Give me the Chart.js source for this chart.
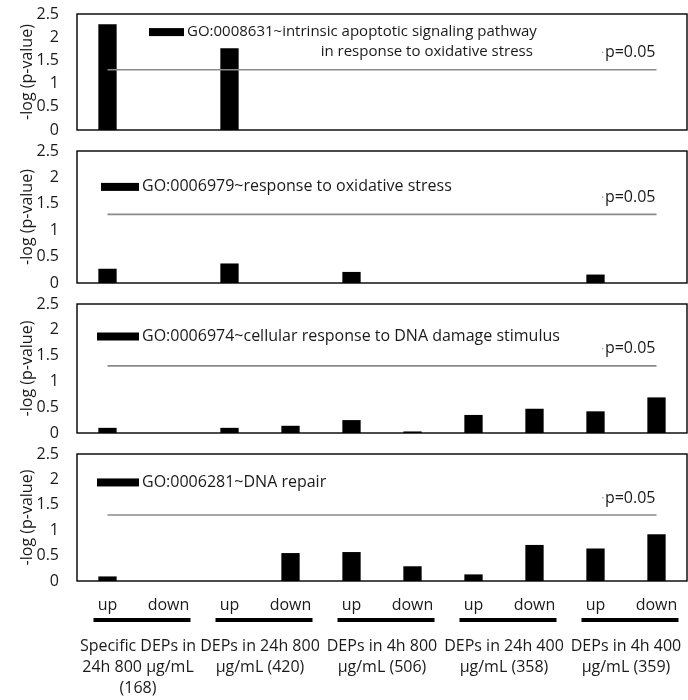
<!DOCTYPE html>
<html>
<head>
<meta charset="utf-8">
<script src="https://cdn.jsdelivr.net/npm/chart.js@4/dist/chart.umd.min.js"></script>
<style>
  body { margin: 0; background: #fff; width: 688px; height: 700px; position: relative; overflow: hidden; }
  canvas { position: absolute; left: 0; display: block; }
</style>
</head>
<body>
<canvas id="c1" width="688" height="136" style="top:4px"></canvas>
<canvas id="c2" width="688" height="152" style="top:141px"></canvas>
<canvas id="c3" width="688" height="149" style="top:294px"></canvas>
<canvas id="c4" width="688" height="256" style="top:444px"></canvas>
<script>
const categories = ["up", "down", "up", "down", "up", "down", "up", "down", "up", "down"];
const groupLabels = [
  ["Specific DEPs in", "24h 800 μg/mL", "(168)"],
  ["DEPs in 24h 800", "μg/mL (420)"],
  ["DEPs in 4h 800", "μg/mL (506)"],
  ["DEPs in 24h 400", "μg/mL (358)"],
  ["DEPs in 4h 400", "μg/mL (359)"],
];
const yTitle = "-log (p-value)";
const threshold = 1.3; // -log10(0.05)
const thresholdLabel = "p=0.05";

const apoptoticTerm = ["GO:0008631~intrinsic apoptotic signaling pathway", "in response to oxidative stress"];
const apoptoticValues = [2.28, 0, 1.76, 0, 0, 0, 0, 0, 0, 0];

const oxidativeTerm = ["GO:0006979~response to oxidative stress"];
const oxidativeValues = [0.27, 0, 0.37, 0, 0.21, 0, 0, 0, 0.16, 0];

const dnaDamageTerm = ["GO:0006974~cellular response to DNA damage stimulus"];
const dnaDamageValues = [0.1, 0, 0.1, 0.14, 0.25, 0.03, 0.35, 0.47, 0.42, 0.69];

const dnaRepairTerm = ["GO:0006281~DNA repair"];
const dnaRepairValues = [0.09, 0, 0, 0.55, 0.57, 0.29, 0.13, 0.71, 0.64, 0.92];

const FONT_FAMILY = "'Open Sans', Lato, sans-serif";
const FONT_SIZE = 16;
const TEXT_COLOR = "#1a1a1a";

// frame, in-plot legend and the p=0.05 label
const panelDecor = {
  id: "panelDecor",
  afterDatasetsDraw(chart, args, opts) {
    const { ctx, chartArea: a, scales: { x, y } } = chart;
    ctx.save();
    ctx.strokeStyle = "#000";
    ctx.lineWidth = 1.4;
    ctx.strokeRect(a.left, a.top, a.right - a.left, a.bottom - a.top);

    const lines = chart.data.datasets[1].label.split("|");
    const ly = y.getPixelForValue(opts.legendY);
    ctx.fillStyle = "#000";
    ctx.fillRect(opts.legendX, ly - 4, opts.boxW, 8);
    ctx.font = (opts.fontSize || FONT_SIZE) + "px " + FONT_FAMILY;
    ctx.fillStyle = TEXT_COLOR;
    ctx.textBaseline = "middle";
    ctx.textAlign = "left";
    const tx = opts.legendX + opts.boxW + 3;
    ctx.fillText(lines[0], tx, ly);
    if (lines[1]) {
      ctx.textAlign = "right";
      ctx.fillText(lines[1], tx + ctx.measureText(lines[0]).width - 4, ly + 20);
    }

    ctx.font = FONT_SIZE + "px " + FONT_FAMILY;
    const px = x.getPixelForValue(categories.length - 1) - 1;
    const py = y.getPixelForValue(threshold) - 17;
    ctx.textAlign = "right";
    ctx.fillText(thresholdLabel, px, py);
    const w = ctx.measureText(thresholdLabel).width;
    ctx.fillStyle = "#aaa";
    ctx.fillRect(px - w - 3, py - 1, 1.5, 1.5);
    ctx.restore();
  },
};

// thick underline below each up/down pair
const groupLines = {
  id: "groupLines",
  afterDraw(chart) {
    const { ctx, scales: { x } } = chart;
    ctx.save();
    ctx.strokeStyle = "#000";
    ctx.lineWidth = 4;
    for (let g = 0; g < groupLabels.length; g++) {
      const x1 = x.getPixelForValue(g * 2) - 14;
      const x2 = Math.min(x.getPixelForValue(g * 2 + 1) + 22, 686);
      ctx.beginPath();
      ctx.moveTo(x1, x.top + 39);
      ctx.lineTo(x2, x.top + 39);
      ctx.stroke();
    }
    ctx.restore();
  },
};

// keep label overflow from squeezing the plot area
function noSidePadding(scale) {
  scale.paddingLeft = 0;
  scale.paddingRight = 0;
}

function makePanel(canvasId, term, values, legend, isLast) {
  const font = { family: FONT_FAMILY, size: FONT_SIZE };
  const scales = {
    y: {
      min: 0,
      max: 2.5,
      ticks: { stepSize: 0.5, autoSkip: false, padding: 18, color: TEXT_COLOR, font, callback: (v) => String(v) },
      grid: { display: false, drawTicks: false },
      border: { display: false },
      title: {
        display: true,
        text: yTitle,
        color: TEXT_COLOR,
        font,
        padding: { top: 18, bottom: 0 },
      },
      afterFit(scale) {
        scale.width = 77;
        // tick padding is only meant sideways, not to shrink the plot vertically
        scale.paddingTop = 10;
        scale.paddingBottom = 10;
      },
    },
    x: {
      display: !!isLast,
      weight: 0,
      ticks: { padding: 15, color: TEXT_COLOR, autoSkip: false, maxRotation: 0, font },
      grid: { display: false, drawTicks: false },
      border: { display: false },
      afterFit(scale) {
        noSidePadding(scale);
        if (isLast) scale.height = 48;
      },
    },
  };
  if (isLast) {
    scales.x2 = {
      type: "category",
      position: "bottom",
      weight: 1,
      offset: true,
      labels: groupLabels,
      ticks: { padding: 7, color: TEXT_COLOR, autoSkip: false, maxRotation: 0, font: { family: FONT_FAMILY, size: FONT_SIZE, lineHeight: 1.3 } },
      grid: { display: false, drawTicks: false },
      border: { display: false },
      afterFit(scale) {
        noSidePadding(scale);
        scale.height = 71;
      },
    };
  }

  return new Chart(document.getElementById(canvasId), {
    type: "bar",
    data: {
      labels: categories,
      datasets: [
        {
          type: "line",
          label: thresholdLabel,
          data: categories.map(() => threshold),
          borderColor: "#8a8a8a",
          borderWidth: 1.6,
          pointRadius: 0,
          order: 0,
        },
        {
          label: term.join("|"),
          data: values,
          backgroundColor: "#000",
          barPercentage: 0.3,
          categoryPercentage: 1,
          order: 1,
        },
      ],
    },
    options: {
      responsive: false,
      animation: false,
      devicePixelRatio: 1,
      layout: { padding: { top: 10, bottom: isLast ? 0 : 10, left: 0, right: 1 } },
      plugins: {
        legend: { display: false },
        tooltip: { enabled: false },
        panelDecor: legend,
      },
      scales,
    },
    plugins: isLast ? [panelDecor, groupLines] : [panelDecor],
  });
}

makePanel("c1", apoptoticTerm, apoptoticValues, { legendX: 149, legendY: 2.11, boxW: 35, fontSize: 15 });
makePanel("c2", oxidativeTerm, oxidativeValues, { legendX: 101, legendY: 1.82, boxW: 38 });
makePanel("c3", dnaDamageTerm, dnaDamageValues, { legendX: 97, legendY: 1.87, boxW: 42 });
makePanel("c4", dnaRepairTerm, dnaRepairValues, { legendX: 97, legendY: 1.94, boxW: 42 }, true);
</script>
</body>
</html>
